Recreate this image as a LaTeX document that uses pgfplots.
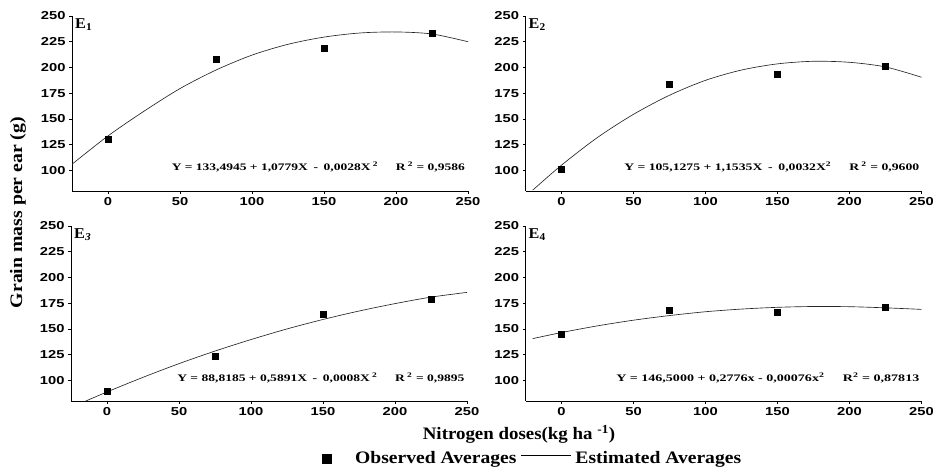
\documentclass[border=0pt]{standalone}
\usepackage{fontspec}
\setmainfont{Liberation Serif}
\newfontfamily\ticksf{Liberation Sans}[FakeStretch=1.28]
\newfontfamily\labrm{Liberation Serif}[FakeStretch=1.08]
\newfontfamily\legrm{Liberation Serif}[FakeStretch=1.12]
\newfontfamily\ylabrm{Liberation Serif}[FakeStretch=1.13]
\usepackage{pgfplots}
\pgfplotsset{compat=1.18}
\pgfplotsset{
  panel/.style={
    scale only axis, width=396pt, height=175pt,
    xmin=-25, xmax=250, ymin=80, ymax=250,
    xtick={0,50,100,150,200,250}, ytick={100,125,150,175,200,225,250},
    axis x line*=bottom, axis y line*=left,
    axis line style={black, line width=0.5pt, -},
    tick align=outside, tick style={black, line width=0.5pt}, major tick length=3pt,
    ticklabel style={font=\ticksf\bfseries\fontsize{11.5}{12}\selectfont},
    /pgf/number format/assume math mode=true,
    clip mode=individual,
  },
  obs/.style={only marks, mark=square*, mark size=3pt, black},
  est/.style={black!85, line width=0.65pt, smooth, mark=none},
}
\newcommand{\eqlab}[2]{\resizebox{#1}{\height}{\bfseries\fontsize{10}{10}\selectfont #2}}
\newcommand{\sq}{\textsuperscript{2}}
\begin{document}
\begin{tikzpicture}
\useasboundingbox (0,0) rectangle (933pt,470pt);
% ---------- E1 ----------
\begin{axis}[panel, at={(72pt,279pt)}, anchor=south west]
\addplot[est] coordinates {(-25,106) (0,133.5) (25,157.5) (50,179.5) (75,197.5) (100,212) (125,222.5) (150,229.5) (175,233.5) (200,234.5) (225,232.5) (250,225)};
\addplot[obs] coordinates {(0,130) (75,208) (150,219) (225,233)};
\node[anchor=north west, inner sep=0pt, font=\labrm\bfseries\fontsize{15}{15}\selectfont] at ([xshift=3pt,yshift=-2pt]rel axis cs:0,1) {E\textsubscript{1}};
\node[anchor=east, inner sep=0pt] at (axis cs:247.9,103.5) {\eqlab{293pt}{Y = 133,4945 + 1,0779X \,-\, 0,0028X\,\sq\hspace{1.3em}R\,\sq\ = 0,9586}};
\end{axis}
% ---------- E2 ----------
\begin{axis}[panel, at={(525.5pt,279pt)}, anchor=south west]
\addplot[est] coordinates {(-20,80.8) (0,105.1) (25,132) (50,154.5) (75,173) (100,187.5) (125,197.5) (150,203.5) (175,206) (200,205) (225,200.5) (250,190.5)};
\addplot[obs] coordinates {(0,101) (75,183.5) (150,193.5) (225,201.5)};
\node[anchor=north west, inner sep=0pt, font=\labrm\bfseries\fontsize{15}{15}\selectfont] at ([xshift=3pt,yshift=-2pt]rel axis cs:0,1) {E\textsubscript{2}};
\node[anchor=east, inner sep=0pt] at (axis cs:248.6,103.5) {\eqlab{295pt}{Y = 105,1275 + 1,1535X \,-\, 0,0032X\sq\hspace{1.3em}R\,\sq\ = 0,9600}};
\end{axis}
% ---------- E3 ----------
\begin{axis}[panel, at={(71pt,69pt)}, anchor=south west,
  legend style={at={(0.6338,-0.3286)}, anchor=west, draw=none, fill=none, inner sep=0pt,
    font=\legrm\bfseries\fontsize{17.5}{18}\selectfont,
    nodes={inner sep=0pt}, /tikz/column sep=0pt},
  legend columns=2]
\addplot[est, forget plot] coordinates {(-15,79.8) (0,88.8) (25,103) (50,116.3) (75,128.5) (100,139.7) (125,150) (150,159.2) (175,167.4) (200,174.6) (225,180.9) (250,185.5)};
\addplot[obs, forget plot] coordinates {(0,90) (75,123.5) (150,164) (225,178.5)};
\node[anchor=north west, inner sep=0pt, font=\labrm\bfseries\fontsize{15}{15}\selectfont] at ([xshift=3pt,yshift=-2pt]rel axis cs:0,1) {E\textsubscript{\textit{3}}};
\node[anchor=east, inner sep=0pt] at (axis cs:248.3,102.5) {\eqlab{287pt}{Y = 88,8185 + 0,5891X \,-\, 0,0008X\,\sq\hspace{1.3em}R\,\sq\ = 0,9895}};
\addlegendimage{legend image code/.code={\fill[black, draw=none] (0pt,-5pt) rectangle (10pt,5pt); \path[draw=none, fill=none] (0pt,-5pt) rectangle (33pt,5pt);}}
\addlegendentry{Observed Averages}
\addlegendimage{legend image code/.code={\draw[black, line width=0.6pt] (5pt,3pt) -- (55pt,3pt); \path[draw=none, fill=none] (0pt,-3pt) rectangle (59pt,3pt);}}
\addlegendentry{Estimated Averages}
\end{axis}
% ---------- E4 ----------
\begin{axis}[panel, at={(525.5pt,69pt)}, anchor=south west]
\addplot[est] coordinates {(-20,140.6) (0,146.5) (25,153) (50,158.5) (75,163) (100,166.7) (125,169.3) (150,171) (175,171.8) (200,171.6) (225,170.5) (250,169)};
\addplot[obs] coordinates {(0,144.5) (75,167.8) (150,166.5) (225,171.4)};
\node[anchor=north west, inner sep=0pt, font=\labrm\bfseries\fontsize{15}{15}\selectfont] at ([xshift=3pt,yshift=-2pt]rel axis cs:0,1) {E\textsubscript{4}};
\node[anchor=east, inner sep=0pt] at (axis cs:248.6,102.5) {\eqlab{303pt}{Y = 146,5000 + 0,2776x - 0,00076x\sq\hspace{1.3em}R\sq\ = 0,87813}};
\end{axis}
% ---------- shared labels ----------
\node[rotate=90, inner sep=0pt, font=\ylabrm\bfseries\fontsize{17.5}{18}\selectfont] at (18pt,257.5pt) {Grain mass per ear (g)};
\node[anchor=base, inner sep=0pt, font=\labrm\bfseries\fontsize{17.5}{18}\selectfont] at (519pt,30pt) {Nitrogen doses(kg ha \textsuperscript{-1})};
\end{tikzpicture}
\end{document}
